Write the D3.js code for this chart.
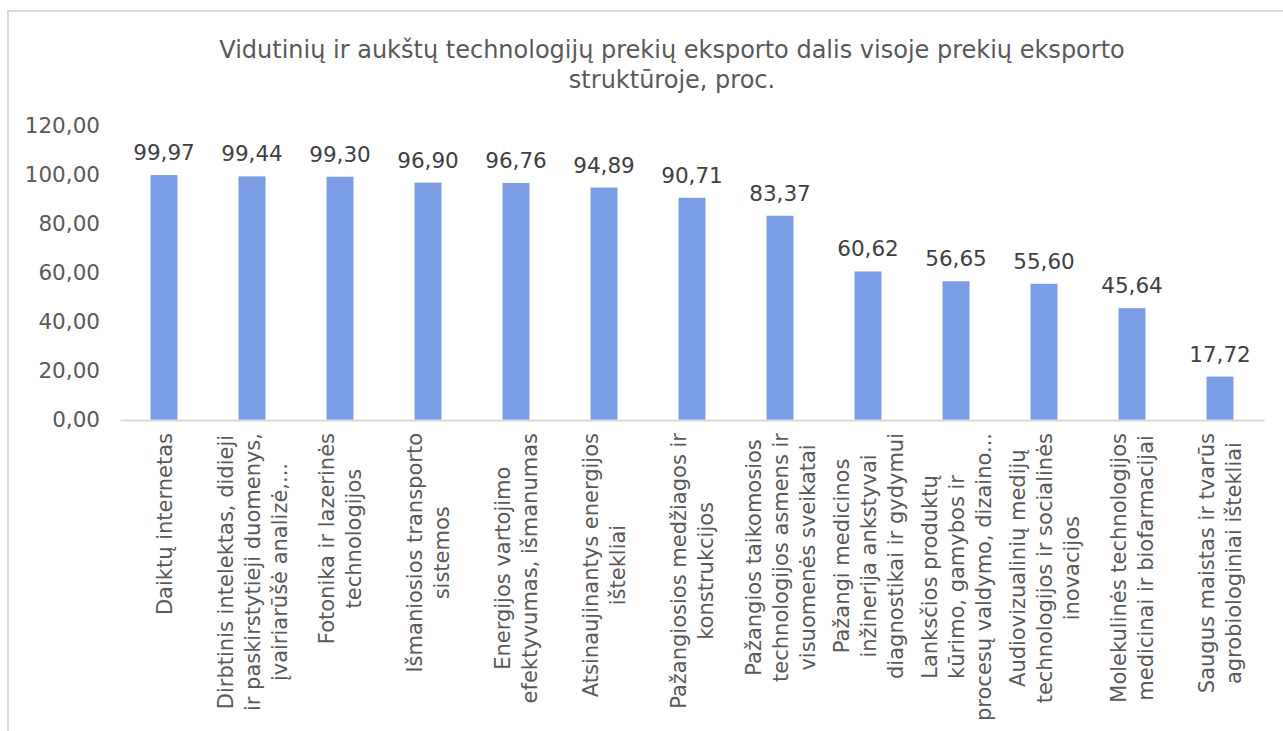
<!DOCTYPE html>
<html>
<head>
<meta charset="utf-8">
<script src="https://cdn.jsdelivr.net/npm/d3@7"></script>
<style>
  html, body { margin: 0; padding: 0; background: #fff; }
  svg { display: block; font-family: "DejaVu Sans", Verdana, sans-serif; }
</style>
</head>
<body>
<svg id="chart" width="1283" height="731"></svg>
<script>
// Kategorijos (x ašies etiketės, suskaidytos į eilutes)
const categories = [
  ["Daiktų internetas"],
  ["Dirbtinis intelektas, didieji", "ir paskirstytieji duomenys,", "įvairiarūšė analizė,..."],
  ["Fotonika ir lazerinės", "technologijos"],
  ["Išmaniosios transporto", "sistemos"],
  ["Energijos vartojimo", "efektyvumas, išmanumas"],
  ["Atsinaujinantys energijos", "ištekliai"],
  ["Pažangiosios medžiagos ir", "konstrukcijos"],
  ["Pažangios taikomosios", "technologijos asmens ir", "visuomenės sveikatai"],
  ["Pažangi medicinos", "inžinerija ankstyvai", "diagnostikai ir gydymui"],
  ["Lanksčios produktų", "kūrimo, gamybos ir", "procesų valdymo, dizaino..."],
  ["Audiovizualinių medijų", "technologijos ir socialinės", "inovacijos"],
  ["Molekulinės technologijos", "medicinai ir biofarmacijai"],
  ["Saugus maistas ir tvarūs", "agrobiologiniai ištekliai"]
];

// Eksporto dalis, proc.
const values = [99.97, 99.44, 99.30, 96.90, 96.76, 94.89, 90.71, 83.37, 60.62, 56.65, 55.60, 45.64, 17.72];

// Y ašies padalos
const yTicks = [0, 20, 40, 60, 80, 100, 120];

const titleLines = [
  "Vidutinių ir aukštų technologijų prekių eksporto dalis visoje prekių eksporto",
  "struktūroje, proc."
];

const locale = d3.formatLocale({ decimal: ",", thousands: " ", grouping: [3], currency: ["", " €"] });
const fmt = locale.format(".2f");

const svg = d3.select("#chart");
const W = 1283, H = 731;

// Diagramos rėmelis
svg.append("rect")
  .attr("x", 8).attr("y", 11)
  .attr("width", W + 20).attr("height", H + 20)
  .attr("fill", "#fff")
  .attr("stroke", "#d9d9d9").attr("stroke-width", 2);

const plot = { left: 120, right: 1264, top: 126, bottom: 420 };

const x = d3.scaleBand()
  .domain(d3.range(categories.length))
  .range([plot.left, plot.right])
  .paddingInner(0).paddingOuter(0);

const y = d3.scaleLinear()
  .domain([0, 120])
  .range([plot.bottom, plot.top]);

const barW = 27;

// Pavadinimas
const title = svg.append("text")
  .attr("text-anchor", "middle")
  .attr("fill", "#595959")
  .style("font-size", "24px");
titleLines.forEach((t, i) => {
  title.append("tspan").attr("x", 672).attr("y", 58 + i * 30).text(t);
});

// Y ašis (tik etiketės)
const yAxis = d3.axisLeft(y).tickValues(yTicks).tickFormat(fmt).tickSize(0).tickPadding(0);
const gy = svg.append("g").attr("transform", `translate(100,0)`).call(yAxis);
gy.select(".domain").remove();
gy.selectAll("text")
  .attr("fill", "#595959")
  .style("font-size", "21.5px")
  .style("font-family", "DejaVu Sans, Verdana, sans-serif");

// Stulpeliai
svg.append("g").selectAll("rect")
  .data(values)
  .join("rect")
  .attr("x", (d, i) => x(i) + x.bandwidth() / 2 - barW / 2)
  .attr("y", d => y(d))
  .attr("width", barW)
  .attr("height", d => y(0) - y(d))
  .attr("fill", "#7b9de6");

// X ašies linija
const xAxis = d3.axisBottom(x).tickSize(0).tickFormat("");
const gx = svg.append("g").attr("transform", `translate(0,${plot.bottom})`).call(xAxis);
gx.select(".domain").attr("stroke", "#d9d9d9").attr("stroke-width", 2);

// Reikšmių etiketės
svg.append("g").selectAll("text")
  .data(values)
  .join("text")
  .attr("x", (d, i) => x(i) + x.bandwidth() / 2)
  .attr("y", d => y(d) - 15)
  .attr("text-anchor", "middle")
  .attr("fill", "#404040")
  .style("font-size", "21.5px")
  .text(d => fmt(d));

// Kategorijų etiketės, pasuktos 90°
const labelTop = 433;
const lineH = 27;
const lg = svg.append("g").style("font-size", "21px").attr("fill", "#595959");
categories.forEach((lines, i) => {
  const cx = x(i) + x.bandwidth() / 2;
  const g = lg.append("g").attr("transform", `translate(${cx},${labelTop}) rotate(-90)`);
  const n = lines.length;
  const texts = lines.map((t, j) =>
    g.append("text")
      .attr("text-anchor", "middle")
      .attr("y", (j - (n - 1) / 2) * lineH + 7.5)
      .text(t)
  );
  const maxW = d3.max(texts, t => t.node().getComputedTextLength());
  texts.forEach(t => t.attr("x", -maxW / 2));
});
</script>
</body>
</html>
